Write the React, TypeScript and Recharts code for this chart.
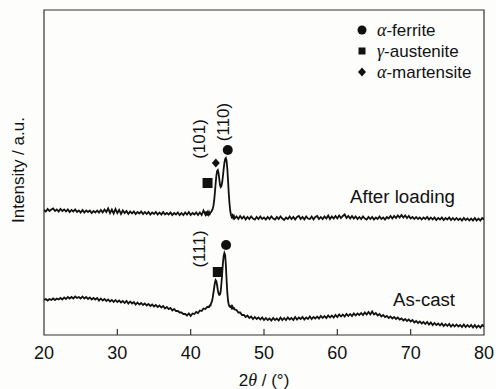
import React from "react";
import {
  ComposedChart,
  Line,
  Scatter,
  XAxis,
  YAxis,
  ReferenceLine,
  ReferenceArea,
  Customized,
} from "recharts";

const afterLoading: [number, number][] = [
  [20, 125], [20.25, 123.5], [20.5, 126], [20.75, 124], [21, 125.5], [21.25, 126.5], [21.5, 124], [21.75, 125.5],
  [22, 123.5], [22.25, 126], [22.5, 124], [22.75, 125.5], [23, 123.5], [23.25, 125.5], [23.5, 123], [23.75, 125],
  [24, 123.5], [24.25, 125.5], [24.5, 123], [24.75, 124.5], [25, 122.5], [25.25, 125], [25.5, 122.5], [25.75, 124.5],
  [26, 123], [26.25, 124.5], [26.5, 122], [26.75, 124], [27, 122.5], [27.25, 124.5], [27.5, 122.5], [27.75, 125],
  [28, 122.5], [28.25, 125.5], [28.5, 123], [28.75, 126.5], [29, 122], [29.25, 125.5], [29.5, 121.5], [29.75, 126],
  [30, 122], [30.25, 125], [30.5, 121], [30.75, 124.5], [31, 122], [31.25, 124], [31.5, 121], [31.75, 123.5],
  [32, 121.5], [32.25, 123.5], [32.5, 121], [32.75, 123], [33, 121.5], [33.25, 123.5], [33.5, 121], [33.75, 123],
  [34, 121], [34.25, 123], [34.5, 120.5], [34.75, 122.5], [35, 121], [35.25, 123], [35.5, 120.5], [35.75, 122.5],
  [36, 120.5], [36.25, 123], [36.5, 120.5], [36.75, 122], [37, 120.5], [37.25, 122.5], [37.5, 120], [37.75, 122],
  [38, 120.5], [38.25, 122.5], [38.5, 120], [38.75, 122], [39, 120], [39.25, 122.5], [39.5, 120.5], [39.75, 123],
  [40, 120], [40.25, 122], [40.5, 120.5], [40.75, 122.5], [41, 120], [41.25, 122.5], [41.5, 120], [41.75, 124.5],
  [42, 120.5], [42.1, 123.5], [42.2, 119.5], [42.3, 122.5], [42.4, 120.5], [42.5, 123], [42.6, 121], [42.7, 122.5],
  [42.8, 123], [42.9, 124.5], [43, 126], [43.1, 129], [43.2, 134], [43.3, 142], [43.4, 151], [43.5, 159],
  [43.6, 164], [43.7, 165], [43.8, 162], [43.9, 156], [44, 150], [44.1, 148], [44.2, 149], [44.3, 153],
  [44.4, 159], [44.5, 166], [44.6, 172], [44.7, 176], [44.8, 177], [44.9, 174], [45, 166], [45.1, 154],
  [45.2, 141], [45.3, 131], [45.4, 124], [45.5, 120], [45.6, 118], [45.7, 119.5], [45.8, 117], [45.9, 119],
  [46, 116.5], [46.25, 118.5], [46.5, 116], [46.75, 119], [47, 116.5], [47.25, 118.5], [47.5, 115.5], [47.75, 118],
  [48, 116], [48.25, 118.5], [48.5, 116.5], [48.75, 115.5], [49, 118], [49.25, 116], [49.5, 118.5], [49.75, 116],
  [50, 117.5], [50.25, 115.5], [50.5, 118], [50.75, 116], [51, 118.5], [51.25, 116.5], [51.5, 115.5], [51.75, 118],
  [52, 116], [52.25, 118.5], [52.5, 116.5], [52.75, 115], [53, 117.5], [53.25, 116], [53.5, 118.5], [53.75, 116],
  [54, 118], [54.25, 115.5], [54.5, 118], [54.75, 119], [55, 116], [55.25, 118], [55.5, 115.5], [55.75, 118.5],
  [56, 116.5], [56.25, 116], [56.5, 118.5], [56.75, 115.5], [57, 118], [57.25, 119], [57.5, 116], [57.75, 118],
  [58, 116], [58.25, 118.5], [58.5, 116.5], [58.75, 119.5], [59, 116], [59.25, 118.5], [59.5, 116.5], [59.75, 119],
  [60, 116.5], [60.25, 119.5], [60.5, 117], [60.75, 119], [61, 120.5], [61.25, 117], [61.5, 119], [61.75, 116.5],
  [62, 119], [62.25, 116.5], [62.5, 118.5], [62.75, 116], [63, 118], [63.25, 116], [63.5, 118.5], [63.75, 116.5],
  [64, 115.5], [64.25, 118], [64.5, 116], [64.75, 118], [65, 115.5], [65.25, 117.5], [65.5, 116], [65.75, 118.5],
  [66, 116], [66.25, 117.5], [66.5, 115.5], [66.75, 118], [67, 116.5], [67.25, 119], [67.5, 116.5], [67.75, 119],
  [68, 117], [68.25, 119.5], [68.5, 117.5], [68.75, 120], [69, 117.5], [69.25, 119.5], [69.5, 117], [69.75, 119],
  [70, 116.5], [70.25, 118], [70.5, 116], [70.75, 118], [71, 116], [71.25, 117.5], [71.5, 115.5], [71.75, 117.5],
  [72, 116], [72.25, 118], [72.5, 115.5], [72.75, 117.5], [73, 115.5], [73.25, 117.5], [73.5, 115], [73.75, 117],
  [74, 115.5], [74.25, 117.5], [74.5, 115], [74.75, 117], [75, 115.5], [75.25, 117.5], [75.5, 115], [75.75, 117],
  [76, 115], [76.25, 117], [76.5, 115], [76.75, 116.5], [77, 114.5], [77.25, 117], [77.5, 115], [77.75, 116.5],
  [78, 114.5], [78.25, 116.5], [78.5, 114.5], [78.75, 117], [79, 114.5], [79.25, 116.5], [79.5, 114.5], [79.75, 117],
  [80, 115.5],
];

const asCast: [number, number][] = [
  [20, 35], [20.25, 36], [20.5, 34.5], [20.75, 36], [21, 35], [21.25, 36.5], [21.5, 35], [21.75, 36.5],
  [22, 35.5], [22.25, 37], [22.5, 35.5], [22.75, 37.5], [23, 36], [23.25, 38], [23.5, 36.5], [23.75, 38],
  [24, 36.5], [24.25, 38.5], [24.5, 37], [24.75, 38], [25, 36.5], [25.25, 38.5], [25.5, 36.5], [25.75, 38],
  [26, 36], [26.25, 37.5], [26.5, 35.5], [26.75, 37], [27, 35.5], [27.25, 37], [27.5, 34.5], [27.75, 36.5],
  [28, 34.5], [28.25, 36], [28.5, 34], [28.75, 35.5], [29, 33.5], [29.25, 35], [29.5, 33], [29.75, 35],
  [30, 33], [30.25, 34.5], [30.5, 32.5], [30.75, 34], [31, 32], [31.25, 34], [31.5, 31.5], [31.75, 33.5],
  [32, 31.5], [32.25, 33], [32.5, 30.5], [32.75, 32.5], [33, 30.5], [33.25, 32], [33.5, 30], [33.75, 31.5],
  [34, 29.5], [34.25, 31], [34.5, 29], [34.75, 30.5], [35, 28.5], [35.25, 30], [35.5, 28], [35.75, 29.5],
  [36, 27.5], [36.25, 29], [36.5, 26.5], [36.75, 28], [37, 26], [37.25, 27], [37.5, 24.5], [37.75, 26],
  [38, 24], [38.25, 24], [38.5, 22.5], [38.75, 22.5], [39, 21], [39.25, 21], [39.5, 19.5], [39.75, 21.5],
  [40, 19], [40.25, 21.5], [40.5, 21], [40.75, 23], [41, 22], [41.25, 24.5], [41.5, 24], [41.75, 26.5],
  [42, 26], [42.25, 28], [42.5, 28], [42.6, 29.5], [42.7, 29.5], [42.8, 32], [42.9, 33.5], [43, 37],
  [43.1, 42], [43.2, 47], [43.3, 52], [43.4, 55], [43.5, 54], [43.6, 50], [43.7, 45], [43.8, 41.5],
  [43.9, 40], [44, 40.5], [44.1, 44], [44.2, 52], [44.3, 62], [44.4, 72], [44.5, 79], [44.6, 82],
  [44.7, 80], [44.8, 70], [44.9, 55], [45, 42], [45.1, 34], [45.2, 30], [45.3, 28.5], [45.4, 28],
  [45.5, 29], [45.6, 27], [45.7, 28.5], [45.8, 26.5], [45.9, 27], [46, 25.5], [46.25, 25], [46.5, 22.5],
  [46.75, 22.5], [47, 20], [47.25, 20], [47.5, 18], [47.75, 19.5], [48, 17], [48.25, 18.5], [48.5, 16],
  [48.75, 18], [49, 16], [49.25, 17.5], [49.5, 15.5], [49.75, 17.5], [50, 15], [50.25, 17], [50.5, 15],
  [50.75, 16.5], [51, 14.5], [51.25, 17], [51.5, 15], [51.75, 16.5], [52, 14.5], [52.25, 17.5], [52.5, 15],
  [52.75, 17], [53, 15], [53.25, 17.5], [53.5, 15.5], [53.75, 17], [54, 15], [54.25, 18], [54.5, 15.5],
  [54.75, 17.5], [55, 16], [55.25, 18], [55.5, 15.5], [55.75, 17.5], [56, 16], [56.25, 18.5], [56.5, 16],
  [56.75, 18], [57, 16.5], [57.25, 18.5], [57.5, 16.5], [57.75, 19], [58, 17], [58.25, 19], [58.5, 17],
  [58.75, 19.5], [59, 17.5], [59.25, 19.5], [59.5, 17.5], [59.75, 20], [60, 18], [60.25, 20.5], [60.5, 18.5],
  [60.75, 20.5], [61, 18.5], [61.25, 21], [61.5, 19], [61.75, 21], [62, 19], [62.25, 21.5], [62.5, 19.5],
  [62.75, 21.5], [63, 20], [63.25, 22], [63.5, 20], [63.75, 22.5], [64, 20.5], [64.25, 23], [64.5, 20.5],
  [64.75, 23.5], [65, 20.5], [65.25, 22], [65.5, 19.5], [65.75, 21], [66, 18.5], [66.25, 20], [66.5, 18],
  [66.75, 19], [67, 17], [67.25, 18.5], [67.5, 16.5], [67.75, 18], [68, 16], [68.25, 17.5], [68.5, 15.5],
  [68.75, 16.5], [69, 14.5], [69.25, 16], [69.5, 14], [69.75, 15.5], [70, 13.5], [70.25, 15], [70.5, 12.5],
  [70.75, 14], [71, 12], [71.25, 13.5], [71.5, 11.5], [71.75, 13], [72, 11], [72.25, 13], [72.5, 10.5],
  [72.75, 12.5], [73, 10], [73.25, 12], [73.5, 10], [73.75, 11.5], [74, 9.5], [74.25, 11.5], [74.5, 9],
  [74.75, 11], [75, 9], [75.25, 11], [75.5, 8.5], [75.75, 10.5], [76, 8.5], [76.25, 10.5], [76.5, 8.5],
  [76.75, 10], [77, 8], [77.25, 10.5], [77.5, 8], [77.75, 10], [78, 8], [78.25, 10], [78.5, 7.5],
  [78.75, 10], [79, 7.5], [79.25, 9.5], [79.5, 7.5], [79.75, 10], [80, 8.5],
];

// phase markers placed above the peaks
const ferritePeaks: [number, number][] = [[45.06, 185], [44.83, 90]];
const austenitePeaks: [number, number][] = [[42.3, 152], [43.7, 63]];
const martensitePeaks: [number, number][] = [[43.43, 172]];

// Miller indices
const hklLabels: [number, number, string][] = [
  [41.2, 196, "(101)"],
  [44.42, 213, "(110)"],
  [41.16, 86, "(111)"],
];

const xTicks = [20, 30, 40, 50, 60, 70, 80];

const toRows = (pts: [number, number][]) =>
  pts.map(([angle, intensity]) => ({ angle, intensity }));

const INK = "#111";
const SANS = "'Liberation Sans', Arial, sans-serif";
const GREEK = "'Liberation Serif', 'Times New Roman', serif";

const Dot = (p: any) => <circle cx={p.cx} cy={p.cy} r={5} fill={INK} />;
const Square = (p: any) => (
  <rect x={p.cx - 5} y={p.cy - 5} width={10} height={10} fill={INK} />
);
const Diamond = (p: any) => (
  <path
    d={`M${p.cx},${p.cy - 4.5}L${p.cx + 4},${p.cy}L${p.cx},${p.cy + 4.5}L${p.cx - 4},${p.cy}Z`}
    fill={INK}
  />
);
const HklText = (p: any) => (
  <text
    x={p.cx}
    y={p.cy}
    dy="0.35em"
    textAnchor="middle"
    transform={`rotate(-90, ${p.cx}, ${p.cy})`}
    fontFamily={SANS}
    fontSize={17}
    fill={INK}
  >
    {p.payload.label}
  </text>
);

const legendItems = [
  { greek: "α", name: "-ferrite", marker: "dot" },
  { greek: "γ", name: "-austenite", marker: "square" },
  { greek: "α", name: "-martensite", marker: "diamond" },
];

const Overlay = () => (
  <g>
    {legendItems.map((it, i) => {
      const cy = 30 + i * 21;
      const cx = 362;
      return (
        <g key={i}>
          {it.marker === "dot" && <circle cx={cx} cy={cy} r={4.5} fill={INK} />}
          {it.marker === "square" && (
            <rect x={cx - 3.5} y={cy - 3.5} width={7} height={7} fill={INK} />
          )}
          {it.marker === "diamond" && (
            <path d={`M${cx},${cy - 4.5}L${cx + 4},${cy}L${cx},${cy + 4.5}L${cx - 4},${cy}Z`} fill={INK} />
          )}
          <text x={377} y={cy} dy="0.35em" fontFamily={SANS} fontSize={17} fill={INK}>
            <tspan fontFamily={GREEK} fontStyle="italic" fontSize={18}>{it.greek}</tspan>
            {it.name}
          </text>
        </g>
      );
    })}
    <text x={350} y={197} dy="0.35em" fontFamily={SANS} fontSize={18} fill={INK}
      textLength={105} lengthAdjust="spacingAndGlyphs">
      After loading
    </text>
    <text x={393} y={300} dy="0.35em" fontFamily={SANS} fontSize={18} fill={INK}
      textLength={62} lengthAdjust="spacingAndGlyphs">
      As-cast
    </text>
    <text x={24} y={170} textAnchor="middle" transform="rotate(-90, 24, 170)"
      fontFamily={SANS} fontSize={17} fill={INK}>
      Intensity / a.u.
    </text>
    <text x={264} y={386} textAnchor="middle" fontFamily={SANS} fontSize={17} fill={INK}>
      2<tspan fontFamily={GREEK} fontStyle="italic" fontSize={18}>θ</tspan> / (°)
    </text>
  </g>
);

export default function App() {
  return (
    <div style={{ position: "absolute", left: 0, top: 0, width: 496, height: 389, background: "#fdfdfb" }}>
      <ComposedChart
        width={496}
        height={389}
        margin={{ top: 10, right: 12, bottom: 24, left: 44 }}
      >
        <XAxis
          dataKey="angle"
          type="number"
          domain={[20, 80]}
          ticks={xTicks}
          height={30}
          axisLine={false}
          tickLine={false}
          tickSize={6}
          tickMargin={5}
          tick={{ fontSize: 18, fontFamily: SANS, fill: INK }}
          allowDataOverflow
        />
        <YAxis dataKey="intensity" type="number" domain={[0, 325]} hide allowDataOverflow />
        <ReferenceArea x1={20} x2={80} y1={0} y2={325} fill="none" stroke="#333" strokeWidth={1.2} fillOpacity={0} />
        {xTicks.slice(1, -1).map((t) => (
          <ReferenceLine
            key={t}
            segment={[{ x: t, y: 0 }, { x: t, y: 6 }]}
            stroke="#333"
            strokeWidth={1.2}
          />
        ))}
        <Line data={toRows(afterLoading)} dataKey="intensity" stroke={INK} strokeWidth={1.8}
          dot={false} isAnimationActive={false} type="linear" />
        <Line data={toRows(asCast)} dataKey="intensity" stroke={INK} strokeWidth={1.8}
          dot={false} isAnimationActive={false} type="linear" />
        <Scatter data={toRows(ferritePeaks)} dataKey="intensity" shape={Dot} isAnimationActive={false} />
        <Scatter data={toRows(austenitePeaks)} dataKey="intensity" shape={Square} isAnimationActive={false} />
        <Scatter data={toRows(martensitePeaks)} dataKey="intensity" shape={Diamond} isAnimationActive={false} />
        <Scatter
          data={hklLabels.map(([angle, intensity, label]) => ({ angle, intensity, label }))}
          dataKey="intensity"
          shape={HklText}
          isAnimationActive={false}
        />
        <Customized component={<Overlay />} />
      </ComposedChart>
    </div>
  );
}
